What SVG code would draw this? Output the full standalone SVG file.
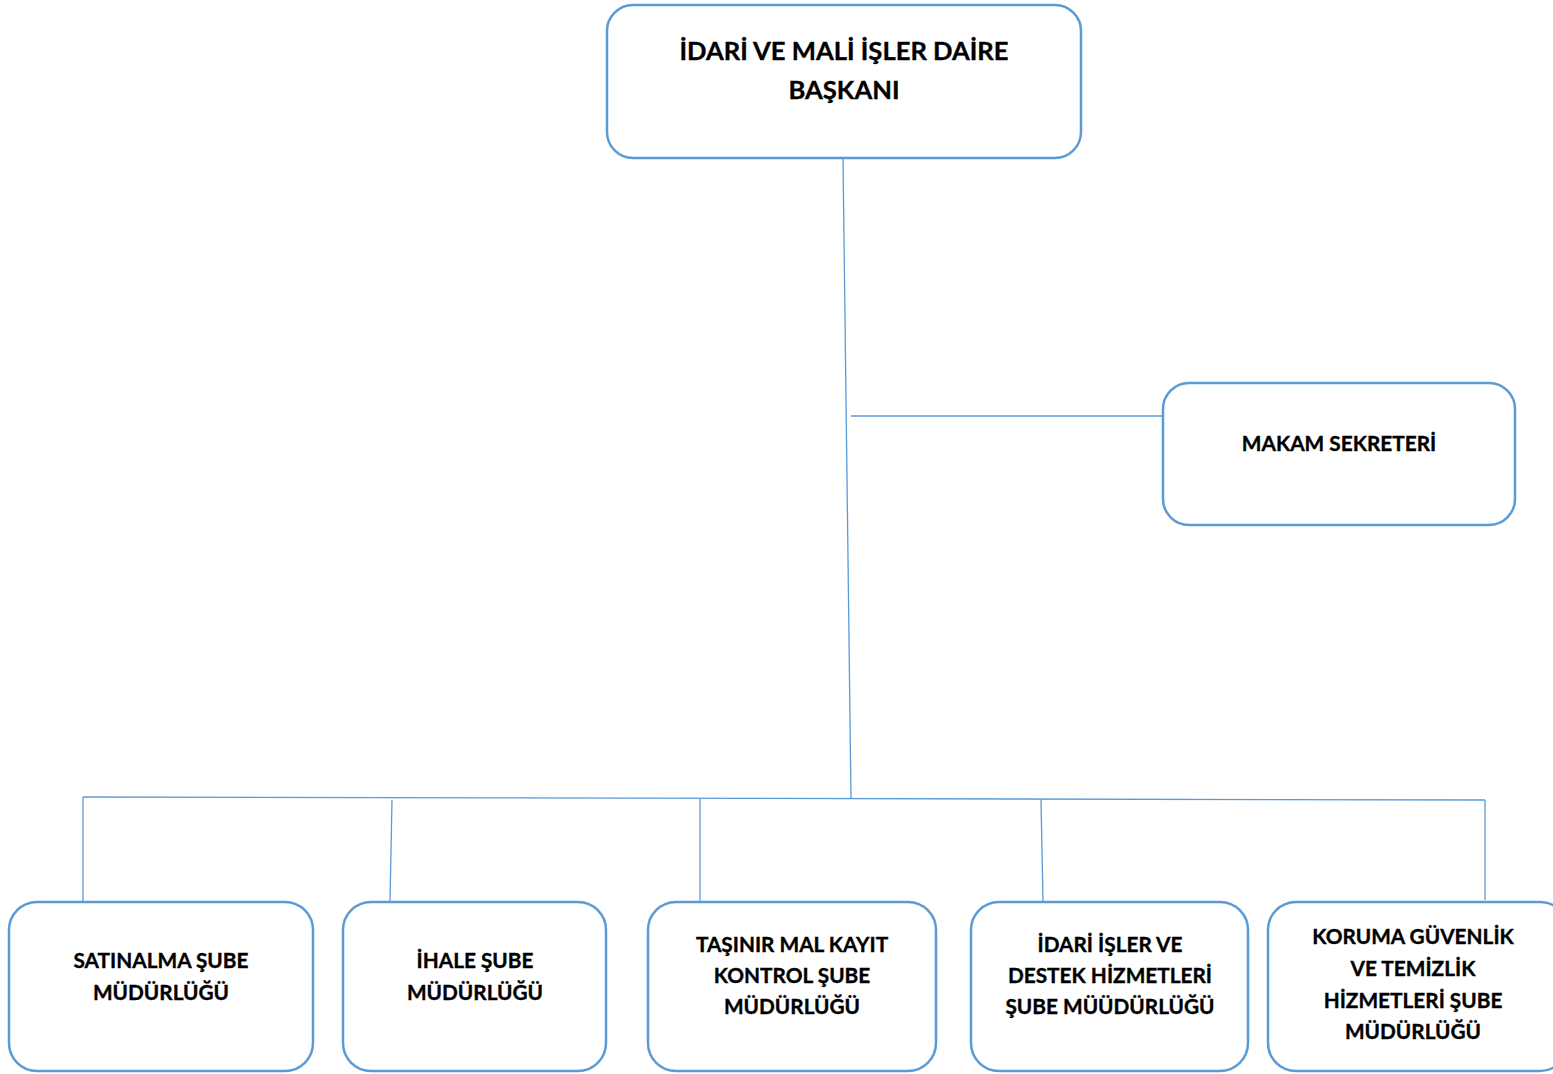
<svg xmlns="http://www.w3.org/2000/svg" width="1553" height="1074" viewBox="0 0 1553 1074">
<style>
.box{fill:#fff;stroke:#5b9bd5;stroke-width:2.5}
.ln{stroke:#5b9bd5;stroke-width:1.3;fill:none}
.t{font-family:Lato,"Liberation Sans",sans-serif;font-weight:bold;fill:#000;stroke:#000;stroke-width:0.35;text-anchor:middle}
.big{font-size:25.6px}
.sm{font-size:20.8px}
</style>
<rect width="1553" height="1074" fill="#fff"/>
<g id="connectors">
<path class="ln" d="M843 158 L851 798"/>
<path class="ln" d="M851 416 L1163 416"/>
<path class="ln" d="M83 797 L1485 800"/>
<path class="ln" d="M83 797 L83 901"/>
<path class="ln" d="M392 800 L390 901"/>
<path class="ln" d="M700 799 L700 901"/>
<path class="ln" d="M1041 800 L1043 901"/>
<path class="ln" d="M1485 800 L1485 900"/>
</g>
<g id="n-baskan">
<rect class="box" x="607" y="5" width="474" height="153" rx="26"/>
<text class="t big" x="844" y="60">İDARİ VE MALİ İŞLER DAİRE</text>
<text class="t big" x="844" y="99">BAŞKANI</text>
</g>
<g id="n-makam">
<rect class="box" x="1163" y="383" width="352" height="142" rx="26"/>
<text class="t sm" x="1339" y="451">MAKAM SEKRETERİ</text>
</g>
<g id="n-satinalma">
<rect class="box" x="9" y="902" width="304" height="169" rx="28"/>
<text class="t sm" x="161" y="968">SATINALMA ŞUBE</text>
<text class="t sm" x="161" y="1000">MÜDÜRLÜĞÜ</text>
</g>
<g id="n-ihale">
<rect class="box" x="343" y="902" width="263" height="169" rx="28"/>
<text class="t sm" x="475" y="968">İHALE ŞUBE</text>
<text class="t sm" x="475" y="1000">MÜDÜRLÜĞÜ</text>
</g>
<g id="n-tasinir">
<rect class="box" x="648" y="902" width="288" height="169" rx="28"/>
<text class="t sm" x="792" y="952">TAŞINIR MAL KAYIT</text>
<text class="t sm" x="792" y="983">KONTROL ŞUBE</text>
<text class="t sm" x="792" y="1014">MÜDÜRLÜĞÜ</text>
</g>
<g id="n-idari">
<rect class="box" x="971" y="902" width="277" height="169" rx="28"/>
<text class="t sm" x="1110" y="952">İDARİ İŞLER VE</text>
<text class="t sm" x="1110" y="983">DESTEK HİZMETLERİ</text>
<text class="t sm" x="1110" y="1014">ŞUBE MÜÜDÜRLÜĞÜ</text>
</g>
<g id="n-koruma">
<rect class="box" x="1268" y="902" width="300" height="169" rx="28"/>
<text class="t sm" x="1413" y="944">KORUMA GÜVENLİK</text>
<text class="t sm" x="1413" y="976">VE TEMİZLİK</text>
<text class="t sm" x="1413" y="1008">HİZMETLERİ ŞUBE</text>
<text class="t sm" x="1413" y="1039">MÜDÜRLÜĞÜ</text>
</g>
</svg>
